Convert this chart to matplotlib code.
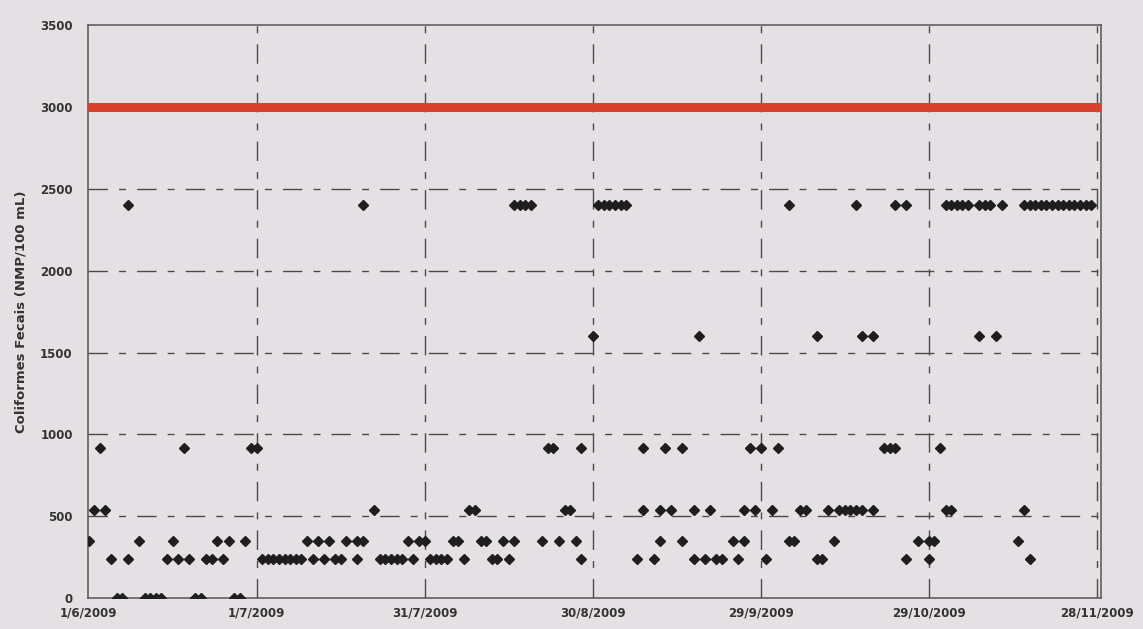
#!/usr/bin/env python3
# -*- coding: utf-8 -*-

import datetime as dt
import matplotlib
matplotlib.use("Agg")
import matplotlib.pyplot as plt
import matplotlib.dates as mdates

# dias contados a partir de 1/6/2009, agrupados pelo valor de NMP
inicio = dt.date(2009, 6, 1)
dias_2400 = [7, 49, 76, 77, 78, 79, 91, 92, 93, 94, 95, 96, 125, 137, 144, 146,
             153, 154, 155, 156, 157, 159, 160, 161, 163,
             167, 168, 169, 170, 171, 172, 173, 174, 175, 176, 177, 178, 179]
dias_1600 = [90, 109, 130, 138, 140, 159, 162]
dias_920 = [2, 17, 29, 30, 82, 83, 88, 99, 103, 106, 118, 120, 123, 142, 143, 144, 152]
dias_540 = [1, 3, 51, 68, 69, 85, 86, 99, 102, 104, 108, 111, 117, 119, 122, 127, 128,
            132, 134, 135, 136, 137, 138, 140, 153, 154, 167]
dias_350 = [0, 9, 15, 23, 25, 28, 39, 41, 43, 46, 48, 49, 57, 59, 60, 65, 66, 70, 71,
            74, 76, 81, 84, 87, 102, 106, 115, 117, 125, 126, 133, 148, 150, 151, 166]
dias_240 = [4, 7, 14, 16, 18, 21, 22, 24, 31, 32, 33, 34, 35, 36, 37, 38, 40, 42, 44, 45,
            48, 52, 53, 54, 55, 56, 58, 61, 62, 63, 64, 67, 72, 73, 75, 88, 98, 101, 108,
            110, 112, 113, 116, 121, 130, 131, 146, 150, 168]
dias_2 = [5, 6, 10, 11, 12, 13, 19, 20, 26, 27]

niveis = {2400: dias_2400, 1600: dias_1600, 920: dias_920, 540: dias_540,
          350: dias_350, 240: dias_240, 2: dias_2}
limite = 3000
ticks_dias = [0, 30, 60, 90, 120, 150, 180]

fundo = '#e5e0e3'
cinza = '#4a4a4a'

fig = plt.figure(figsize=(11.43, 6.29), dpi=100, facecolor=fundo)
ax = fig.add_axes([0.077, 0.049, 0.886, 0.911], facecolor=fundo)

for valor, dias in niveis.items():
	datas = [inicio + dt.timedelta(days=d) for d in dias]
	ax.plot(datas, [valor] * len(datas), linestyle='none', marker='D',
		markersize=5.5, color='#1e1e1e', zorder=3)

x0 = mdates.date2num(inicio)
ax.set_xlim(x0 - 0.1, x0 + 180.7)
ax.set_ylim(0, 3500)

ax.axhline(limite, color='#d8412e', linewidth=6.5, zorder=4)

tick_datas = [inicio + dt.timedelta(days=d) for d in ticks_dias]
ax.set_xticks(tick_datas)
ax.set_xticklabels(['%d/%d/%d' % (t.day, t.month, t.year) for t in tick_datas])
ax.set_yticks(range(0, 3501, 500))

padrao = (0, (14, 8, 5, 8))
for t in tick_datas[1:]:
	ax.axvline(t, color=cinza, linewidth=1, linestyle=padrao, zorder=1)
for y in range(500, 3001, 500):
	ax.axhline(y, color=cinza, linewidth=1, linestyle=padrao, zorder=1)

for s in ax.spines.values():
	s.set_color('#555555')
	s.set_linewidth(1.1)

ax.tick_params(axis='both', length=0, labelsize=8.5, labelcolor='#333333')
ax.tick_params(axis='x', pad=6)
ax.tick_params(axis='y', pad=11)
for lab in ax.get_xticklabels() + ax.get_yticklabels():
	lab.set_fontweight('bold')

ax.set_ylabel('Coliformes Fecais (NMP/100 mL)', fontsize=9.5, fontweight='bold',
	color='#333333', labelpad=9)

fig.savefig('out.png', dpi=100, facecolor=fundo)
